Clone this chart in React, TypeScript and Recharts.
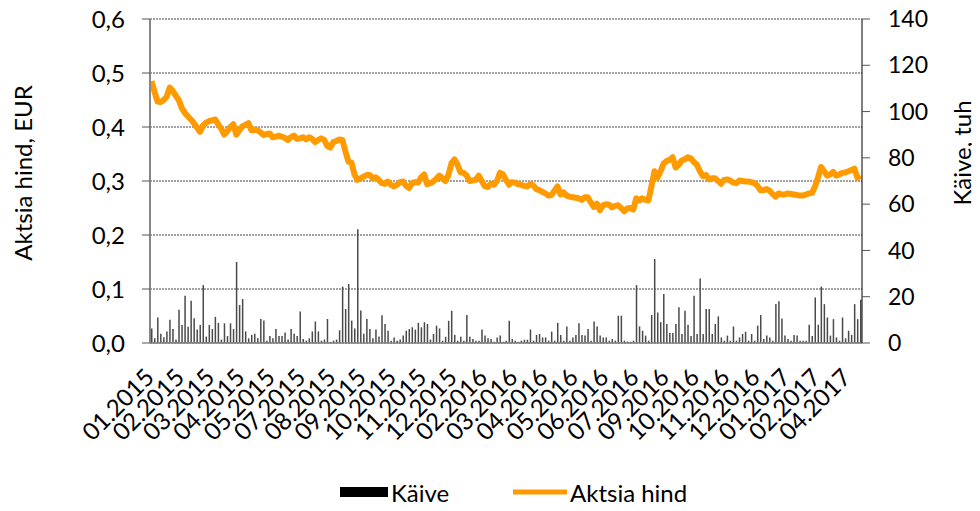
import React from 'react';
import { ComposedChart, Bar, Line, XAxis, YAxis, CartesianGrid, Legend } from 'recharts';

const monthLabels = [
  '01.2015', '02.2015', '03.2015', '04.2015', '05.2015', '07.2015', '08.2015', '09.2015',
  '10.2015', '11.2015', '12.2015', '02.2016', '03.2016', '04.2016', '05.2016', '06.2016',
  '07.2016', '09.2016', '10.2016', '11.2016', '12.2016', '01.2017', '02.2017', '04.2017',
];

const price = [
  0.485, 0.465, 0.447, 0.446, 0.45, 0.456, 0.473, 0.467, 0.458, 0.45,
  0.435, 0.426, 0.42, 0.414, 0.407, 0.399, 0.391, 0.403, 0.408, 0.411,
  0.412, 0.414, 0.405, 0.397, 0.386, 0.392, 0.4, 0.405, 0.386, 0.394,
  0.401, 0.404, 0.407, 0.394, 0.395, 0.394, 0.39, 0.385, 0.387, 0.388,
  0.381, 0.382, 0.384, 0.382, 0.38, 0.376, 0.381, 0.384, 0.378, 0.379,
  0.381, 0.377, 0.381, 0.378, 0.372, 0.376, 0.379, 0.376, 0.365, 0.362,
  0.372, 0.374, 0.377, 0.376, 0.355, 0.336, 0.334, 0.312, 0.302, 0.305,
  0.308, 0.311, 0.311, 0.305, 0.307, 0.302, 0.296, 0.295, 0.299, 0.293,
  0.29, 0.293, 0.298, 0.299, 0.291, 0.287, 0.296, 0.298, 0.297, 0.307,
  0.312, 0.294, 0.296, 0.299, 0.304, 0.31, 0.305, 0.3, 0.311, 0.333,
  0.34, 0.33, 0.316, 0.315, 0.31, 0.3, 0.301, 0.302, 0.31, 0.3,
  0.29, 0.289, 0.295, 0.293, 0.3, 0.315, 0.312, 0.302, 0.293, 0.298,
  0.297, 0.294, 0.293, 0.291, 0.29, 0.294, 0.292, 0.285, 0.283, 0.28,
  0.277, 0.273, 0.274, 0.282, 0.29, 0.275, 0.279, 0.273, 0.271, 0.27,
  0.269, 0.268, 0.265, 0.27, 0.27, 0.26, 0.252, 0.258, 0.246, 0.255,
  0.257, 0.256, 0.251, 0.254, 0.255, 0.25, 0.244, 0.249, 0.25, 0.247,
  0.268, 0.264, 0.268, 0.265, 0.264, 0.29, 0.318, 0.306, 0.318, 0.332,
  0.337, 0.339, 0.344, 0.325, 0.33, 0.338, 0.34, 0.344, 0.342, 0.335,
  0.33, 0.318, 0.309, 0.311, 0.303, 0.305, 0.305, 0.3, 0.295, 0.302,
  0.303, 0.301, 0.297, 0.296, 0.301, 0.3, 0.299, 0.299, 0.298, 0.296,
  0.291, 0.283, 0.283, 0.285, 0.282, 0.276, 0.271, 0.277, 0.275, 0.275,
  0.277, 0.276, 0.275, 0.274, 0.273, 0.273, 0.275, 0.277, 0.278, 0.29,
  0.307, 0.326, 0.318, 0.31, 0.312, 0.317, 0.31, 0.312, 0.315, 0.316,
  0.318, 0.32, 0.323, 0.306, 0.31,
];

const volume = [
  6.3, 2, 11, 4, 2.5, 5, 10, 6, 1.5, 14.4,
  7.8, 20.4, 7, 18.3, 10.7, 5.8, 7.8, 25, 2.8, 7.8,
  6, 11.3, 8.7, 1.5, 8.5, 3, 8.5, 6, 35, 16.4,
  19, 5, 2, 3.5, 4, 2, 10.4, 9.7, 1, 3,
  2, 6, 3, 3, 4.5, 1.5, 6, 4, 3, 13.6,
  1.7, 1, 2, 5, 9.3, 5, 1, 1.5, 10.4, 0.5,
  1, 1.5, 5.5, 24.4, 14.7, 25.5, 9.7, 6.3, 49.2, 14,
  4, 10.4, 6, 2, 5.8, 2.8, 12, 8.2, 5.3, 1,
  2.4, 1, 1.5, 3.2, 5.3, 6, 6.8, 5.8, 8.7, 6.8,
  9, 8.2, 1.5, 3.9, 7.5, 6.3, 1, 2.7, 9.6, 13.9,
  3.5, 1, 2.7, 1, 12.1, 2.7, 1.7, 1, 1, 5.8,
  3.2, 2, 1.7, 0.5, 2.4, 3.2, 0.5, 1, 9.6, 1.7,
  1, 0.5, 1, 1.4, 1.4, 5.8, 1, 3.5, 3.9, 2.4,
  2.4, 1, 4.9, 1, 8.7, 3.5, 1, 7.1, 1, 2.4,
  3.5, 8.5, 3.5, 3.2, 6, 1, 9.3, 7.1, 3.2, 2.4,
  2.4, 1, 1.7, 1, 11.8, 11.8, 1, 0.6, 0.5, 1,
  25, 7.2, 5.3, 3.2, 1, 12.1, 36.3, 13.2, 9, 21.2,
  8.2, 4.3, 4.3, 8.2, 15.4, 3.9, 13.9, 7.9, 3, 20.4,
  3.9, 27.9, 3.9, 14.7, 14.7, 3.9, 8.2, 11.5, 2.4, 1,
  3.2, 1, 7.1, 1, 2.4, 3.9, 4.9, 1, 3.9, 1,
  7.5, 12.1, 1.7, 3.2, 2.4, 1, 16.8, 18, 10.6, 3.2,
  1.7, 1, 3.5, 3.2, 1, 1, 1, 7.9, 3, 19.7,
  7.9, 24.4, 16.8, 11, 3.2, 10.3, 2.4, 1, 11, 2,
  5.3, 3.5, 16.8, 10.3, 18.7,
];

const priceTicks = [0, 0.1, 0.2, 0.3, 0.4, 0.5, 0.6];
const volumeTicks = [0, 20, 40, 60, 80, 100, 120, 140];

const data = price.map((p, i) => ({ i, price: p, volume: volume[i] }));

const FONT = 'Lato, "Open Sans", sans-serif';
const ORANGE = '#FF9B00';
const FS = 24;

const XTick = (props: any) => {
  const { x, y, payload } = props;
  const label = monthLabels[payload.value / 10];
  if (label === undefined) return null;
  const tx = x + 4;
  const ty = y + 36;
  return (
    <text x={tx} y={ty} transform={`rotate(-45 ${tx} ${ty})`} textAnchor="end"
      fontSize={FS} fontFamily={FONT} fill="#000">{label}</text>
  );
};

const AxisTitle = (props: any) => {
  const { px, py, text } = props;
  return (
    <text x={px} y={py} transform={`rotate(-90 ${px} ${py})`} textAnchor="middle"
      fontSize={FS} fontFamily={FONT} fill="#000">{text}</text>
  );
};

const LegendContent = () => (
  <svg width={980} height={30} style={{ display: 'block' }}>
    <rect x={340} y={10} width={48} height={10} fill="#000" />
    <text x={391} y={15} dominantBaseline="central" fontSize={FS} fontFamily={FONT} fill="#000">Käive</text>
    <line x1={513} x2={567} y1={15} y2={15} stroke={ORANGE} strokeWidth={5} />
    <text x={570} y={15} dominantBaseline="central" fontSize={FS} fontFamily={FONT} fill="#000">Aktsia hind</text>
  </svg>
);

export default function App() {
  return (
    <div style={{ margin: '-8px 0 0 -8px', width: 980, height: 511 }}>
      <ComposedChart width={980} height={511} data={data}
        margin={{ top: 19, right: 0, bottom: 0, left: 0 }}>
        <CartesianGrid yAxisId="left" vertical={false} stroke="#444" strokeDasharray="2 1" />
        <XAxis dataKey="i" type="category" interval={9} height={138} tickSize={0} tickMargin={0}
          tick={<XTick />} axisLine={{ stroke: '#868686', strokeWidth: 1.5 }} tickLine={false} />
        <YAxis yAxisId="left" domain={[0, 0.6]} ticks={priceTicks} width={150}
          tickSize={8} tickMargin={17}
          tick={{ fontSize: FS, fill: '#000', fontFamily: FONT }}
          tickFormatter={(v: number) => v.toFixed(1).replace('.', ',')}
          axisLine={{ stroke: '#868686', strokeWidth: 2 }} tickLine={{ stroke: '#555' }}
          label={<AxisTitle px={32} py={173} text="Aktsia hind, EUR" />} />
        <YAxis yAxisId="right" orientation="right" domain={[0, 140]} ticks={volumeTicks} width={118}
          tickSize={8} tickMargin={18}
          tick={{ fontSize: 23, fill: '#000', fontFamily: FONT }}
          axisLine={{ stroke: '#000' }} tickLine={{ stroke: '#555' }}
          label={<AxisTitle px={971} py={153} text="Käive, tuh" />} />
        <Bar yAxisId="right" dataKey="volume" fill="#4a4a4a" barSize={1.5} isAnimationActive={false} />
        <Line yAxisId="left" dataKey="price" type="linear" stroke={ORANGE} strokeWidth={6}
          strokeLinejoin="round" dot={false} isAnimationActive={false} />
        <Legend verticalAlign="bottom" content={<LegendContent />}
          wrapperStyle={{ left: 0, top: 477, width: 980, height: 30 }} />
      </ComposedChart>
    </div>
  );
}
